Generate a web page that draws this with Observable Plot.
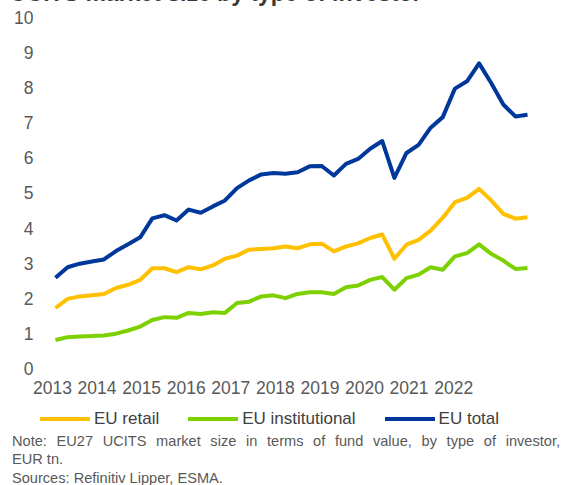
<!DOCTYPE html>
<html>
<head>
<meta charset="utf-8">
<script src="https://cdn.jsdelivr.net/npm/d3@7"></script>
<script src="https://cdn.jsdelivr.net/npm/@observablehq/plot@0.6"></script>
<style>
  html, body { margin: 0; padding: 0; background: #fff; }
  body { width: 565px; height: 485px; overflow: hidden; position: relative; font-family: "Liberation Sans", Arial, sans-serif; }
  #title { position: absolute; left: 10px; top: -19.5px; font-size: 23px; font-weight: bold; color: #3a3a3a; white-space: nowrap; line-height: 24px; }
  #chart { position: absolute; left: 0; top: 0; }
  #legend { position: absolute; left: 40px; top: 408px; display: flex; align-items: center; font-size: 17px; color: #404040; line-height: 22px; }
  .item { display: flex; align-items: center; margin-right: 29px; }
  .item svg { margin-right: 4px; }
  #notes { position: absolute; left: 12px; top: 432px; width: 548px; font-size: 14.6px; color: #595959; line-height: 18.3px; }
  .just { text-align: justify; text-align-last: justify; }
</style>
</head>
<body>
<div id="title">UCITS market size by type of investor</div>
<div id="chart"></div>
<div id="legend"></div>
<div id="notes">
  <div class="just">Note: EU27 UCITS market size in terms of fund value, by type of investor,</div>
  <div>EUR tn.</div>
  <div>Sources: Refinitiv Lipper, ESMA.</div>
</div>
<script>
// Quarterly observations, 2013 Q1 to 2022 Q4 (EUR tn)
const quarters = d3.range(40).map(i => `${2013 + Math.floor(i / 4)}Q${(i % 4) + 1}`);
const seriesNames = ["EU retail", "EU institutional", "EU total"];
const seriesColors = ["#FFC000", "#7DD100", "#00379A"];
const retail = [1.75,2.01,2.08,2.11,2.15,2.32,2.41,2.55,2.88,2.88,2.77,2.91,2.85,2.96,3.15,3.24,3.41,3.43,3.45,3.50,3.45,3.56,3.58,3.36,3.50,3.59,3.74,3.84,3.15,3.55,3.69,3.95,4.32,4.76,4.88,5.14,4.81,4.43,4.29,4.33];
const institutional = [0.84,0.92,0.94,0.95,0.97,1.02,1.11,1.22,1.41,1.49,1.47,1.61,1.58,1.63,1.61,1.89,1.93,2.08,2.11,2.03,2.15,2.20,2.20,2.15,2.34,2.39,2.55,2.63,2.27,2.60,2.70,2.91,2.84,3.22,3.31,3.56,3.29,3.10,2.86,2.89];
const total = [2.61,2.91,3.01,3.07,3.13,3.37,3.56,3.76,4.30,4.39,4.24,4.55,4.46,4.64,4.81,5.16,5.38,5.55,5.59,5.57,5.61,5.78,5.79,5.52,5.85,5.99,6.28,6.50,5.45,6.16,6.39,6.88,7.18,7.99,8.20,8.71,8.15,7.54,7.20,7.25];
const yearLabels = ["2013","2014","2015","2016","2017","2018","2019","2020","2021","2022"];
const yTicks = [0,1,2,3,4,5,6,7,8,9,10];

const seriesValues = [retail, institutional, total];
const rows = [];
seriesNames.forEach((name, s) => {
  seriesValues[s].forEach((v, i) => rows.push({series: name, i, quarter: quarters[i], value: v}));
});

// In the source, the ten year labels are spread evenly along the axis (not on quarter starts)
const labelBand = d3.scaleBand().domain(yearLabels).range([-2.09, 34.74]);
const labelPos = yearLabels.map(y => labelBand(y) + labelBand.bandwidth() / 2);
const posToLabel = new Map(labelPos.map((p, k) => [p, yearLabels[k]]));

const chart = Plot.plot({
  width: 565,
  height: 400,
  marginLeft: 55,
  marginRight: 38,
  marginTop: 17.5,
  marginBottom: 31,
  style: {fontFamily: "'Liberation Sans', Arial, sans-serif", background: "transparent"},
  x: {type: "linear", domain: [0, 39], axis: null},
  y: {domain: [0, 10], axis: null},
  color: {domain: seriesNames, range: seriesColors},
  marks: [
    Plot.axisY(yTicks, {tickSize: 0, tickPadding: 22, fontSize: 17.5, color: "#595959", label: null}),
    Plot.axisX(labelPos, {tickSize: 0, tickPadding: 12, fontSize: 17.5, color: "#595959", label: null, tickFormat: d => posToLabel.get(d)}),
    Plot.line(rows, {x: "i", y: "value", z: "series", stroke: "series", strokeWidth: 4, strokeLinejoin: "round", strokeLinecap: "butt"})
  ]
});
document.getElementById("chart").appendChild(chart);

// Legend
const legend = document.getElementById("legend");
seriesNames.forEach((name, s) => {
  const item = document.createElement("div");
  item.className = "item";
  item.innerHTML = `<svg width="50" height="6"><line x1="0" x2="50" y1="3" y2="3" stroke="${seriesColors[s]}" stroke-width="4"/></svg><span>${name}</span>`;
  legend.appendChild(item);
});
</script>
</body>
</html>
